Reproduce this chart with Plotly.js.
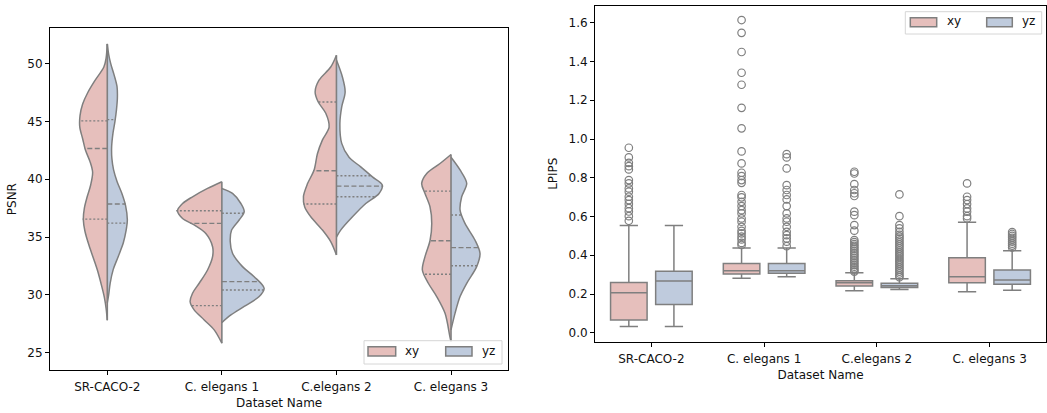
<!DOCTYPE html>
<html><head><meta charset="utf-8">
<script src="https://cdn.plot.ly/plotly-3.0.1.min.js"></script>
<style>html,body{margin:0;padding:0;background:#fff}#chart{width:1047px;height:413px}</style>
</head><body><div id="chart"></div>
<script>
// ---------- DATA ----------
const categories = ["SR-CACO-2", "C. elegans 1", "C.elegans 2", "C. elegans 3"];
const seriesNames = ["xy", "yz"];

// PSNR violin outlines: PSNR level (top to bottom) and half-width of the density at that level
const srXyLevels   = [51.7, 50.5, 49.7, 48.5, 47.5, 46.5, 45.5, 44.5, 43.5, 42.5, 41.5, 40.6, 39.5, 38.5, 37.5, 36.5, 35.5, 34.2, 33.0, 32.0, 30.8, 29.8, 28.8, 27.8];
const srXyWidths   = [0, 0.01, 0.03, 0.11, 0.17, 0.215, 0.238, 0.24, 0.215, 0.19, 0.15, 0.128, 0.145, 0.175, 0.2, 0.209, 0.195, 0.157, 0.115, 0.082, 0.05, 0.026, 0.01, 0];
const srYzLevels   = [51.7, 50.8, 50.0, 49.0, 48.0, 47.0, 46.0, 45.0, 44.0, 42.8, 41.8, 40.8, 39.8, 38.8, 37.7, 36.5, 35.5, 34.5, 33.3, 32.2, 31.0, 30.0, 29.3];
const srYzWidths   = [0, 0.012, 0.03, 0.06, 0.085, 0.088, 0.08, 0.067, 0.05, 0.038, 0.04, 0.055, 0.085, 0.126, 0.16, 0.175, 0.163, 0.14, 0.095, 0.052, 0.025, 0.012, 0];
const c1XyLevels   = [39.78, 39.2, 38.48, 37.9, 37.27, 36.6, 36.04, 35.3, 34.16, 33.3, 32.15, 31.0, 30.14, 29.4, 28.7, 27.83, 26.97, 25.82];
const c1XyWidths   = [0, 0.125, 0.256, 0.343, 0.387, 0.343, 0.242, 0.14, 0.081, 0.081, 0.125, 0.198, 0.256, 0.277, 0.242, 0.154, 0.067, 0];
const c1YzLevels   = [39.2, 38.77, 37.9, 37.2, 36.47, 35.6, 34.6, 33.6, 32.44, 31.57, 30.57, 29.85, 29.0, 28.26, 27.6];
const c1YzWidths   = [0, 0.093, 0.166, 0.195, 0.151, 0.085, 0.073, 0.093, 0.18, 0.282, 0.369, 0.326, 0.195, 0.079, 0];
const c2XyLevels   = [50.72, 49.7, 48.56, 47.55, 46.7, 45.7, 44.5, 43.4, 42.2, 40.8, 39.6, 38.5, 37.6, 36.75, 35.6, 34.6, 33.45];
const c2XyWidths   = [0, 0.05, 0.152, 0.186, 0.16, 0.093, 0.064, 0.122, 0.166, 0.195, 0.253, 0.288, 0.277, 0.224, 0.122, 0.05, 0];
const c2YzLevels   = [50.3, 48.84, 47.55, 46.25, 44.8, 43.1, 41.9, 41.07, 40.2, 39.5, 38.77, 37.9, 36.75, 35.6, 35.0];
const c2YzWidths   = [0, 0.052, 0.076, 0.046, 0.03, 0.046, 0.11, 0.212, 0.314, 0.40, 0.372, 0.256, 0.14, 0.037, 0];
const c3XyLevels   = [42.14, 41.36, 40.5, 39.64, 38.77, 37.6, 36.18, 34.7, 33.3, 32.15, 31.0, 29.85, 28.4, 26.4, 25.96];
const c3XyWidths   = [0, 0.096, 0.212, 0.256, 0.227, 0.183, 0.168, 0.183, 0.227, 0.25, 0.198, 0.125, 0.052, 0.01, 0];
const c3YzLevels   = [41.9, 40.8, 39.64, 38.48, 37.33, 36.18, 34.74, 33.59, 32.44, 31.0, 29.85, 28.4, 26.97];
const c3YzWidths   = [0, 0.079, 0.137, 0.093, 0.079, 0.122, 0.209, 0.253, 0.224, 0.137, 0.079, 0.035, 0];

// PSNR quartiles [Q1, median, Q3]
const xyPsnrQuartiles = [[36.55, 42.66, 45.04], [29.07, 36.18, 37.27], [37.85, 40.73, 46.68], [31.78, 34.68, 38.97]];
const yzPsnrQuartiles = [[36.2, 37.85, 45.15], [30.42, 31.14, 37.05], [38.48, 39.4, 40.3], [32.52, 34.08, 36.9]];

// LPIPS box statistics per category
const xyLower  = [0.033, 0.281, 0.217, 0.212];
const xyQ1     = [0.0655, 0.303, 0.241, 0.258];
const xyMedian = [0.206, 0.32, 0.258, 0.289];
const xyQ3     = [0.26, 0.358, 0.268, 0.387];
const xyUpper  = [0.554, 0.437, 0.31, 0.571];
const yzLower  = [0.033, 0.289, 0.224, 0.22];
const yzQ1     = [0.146, 0.307, 0.234, 0.25];
const yzMedian = [0.267, 0.32, 0.243, 0.272];
const yzQ3     = [0.318, 0.358, 0.255, 0.324];
const yzUpper  = [0.554, 0.437, 0.279, 0.423];

// LPIPS outliers
const xyOutSR = [0.955, 0.905, 0.877, 0.86, 0.843, 0.788, 0.771, 0.745, 0.728, 0.702, 0.685, 0.665, 0.643, 0.626, 0.602, 0.578];
const xyOutC1 = [1.614, 1.548, 1.449, 1.342, 1.28, 1.161, 1.055, 0.936, 0.874, 0.826, 0.809, 0.788, 0.774, 0.711, 0.699, 0.676, 0.654, 0.633, 0.616, 0.59, 0.573, 0.547, 0.526, 0.513, 0.496, 0.482, 0.464, 0.453];
const xyOutC2 = [0.831, 0.822, 0.767, 0.737, 0.72, 0.706, 0.625, 0.607, 0.556, 0.527, 0.478, 0.468, 0.458, 0.449, 0.44, 0.431, 0.422, 0.413, 0.404, 0.395, 0.386, 0.377, 0.368, 0.359, 0.35, 0.341, 0.332, 0.323, 0.316];
const xyOutC3 = [0.771, 0.702, 0.685, 0.664, 0.642, 0.625, 0.602, 0.59];
const yzOutSR = [];
const yzOutC1 = [0.922, 0.905, 0.848, 0.762, 0.737, 0.711, 0.688, 0.654, 0.616, 0.59, 0.573, 0.547, 0.521, 0.504, 0.487, 0.47, 0.447];
const yzOutC2 = [0.714, 0.602, 0.556, 0.539, 0.521, 0.506, 0.496, 0.486, 0.476, 0.466, 0.456, 0.446, 0.436, 0.426, 0.416, 0.406, 0.396, 0.386, 0.376, 0.366, 0.356, 0.346, 0.336, 0.326, 0.316, 0.306, 0.296, 0.287];
const yzOutC3 = [0.52, 0.51, 0.5, 0.49, 0.48, 0.47, 0.46, 0.45, 0.44];

const psnrTicks  = [25, 30, 35, 40, 45, 50];
const lpipsTicks = [0, 0.2, 0.4, 0.6, 0.8, 1.0, 1.2, 1.4, 1.6];

// ---------- STYLE ----------
const W = 1047, H = 413;
const LINE = '#7f7f7f';
const FILL = {xy: '#e6bfbc', yz: '#bfcbdd'};
const FONT = {family: 'DejaVu Sans, sans-serif', size: 12, color: '#111'};
const px = x => x / W, py = y => 1 - y / H;

const xyProfiles = [[srXyLevels, srXyWidths], [c1XyLevels, c1XyWidths], [c2XyLevels, c2XyWidths], [c3XyLevels, c3XyWidths]];
const yzProfiles = [[srYzLevels, srYzWidths], [c1YzLevels, c1YzWidths], [c2YzLevels, c2YzWidths], [c3YzLevels, c3YzWidths]];
const xyOutliers = [xyOutSR, xyOutC1, xyOutC2, xyOutC3];
const yzOutliers = [yzOutSR, yzOutC1, yzOutC2, yzOutC3];

function widthAt(levels, widths, q) {
  for (let k = 0; k < levels.length - 1; k++) {
    const a = levels[k], b = levels[k + 1];
    if ((q <= a && q >= b) || (q >= a && q <= b)) {
      const t = (q - a) / (b - a);
      return widths[k] + t * (widths[k + 1] - widths[k]);
    }
  }
  return 0;
}

const traces = [];
// violins
categories.forEach((cat, i) => {
  [[xyProfiles[i], -1, 'xy', xyPsnrQuartiles[i]], [yzProfiles[i], 1, 'yz', yzPsnrQuartiles[i]]].forEach(([prof, sgn, name, qs]) => {
    const [lv, wd] = prof;
    traces.push({
      type: 'scatter', mode: 'lines', xaxis: 'x', yaxis: 'y',
      x: lv.map((v, k) => i + sgn * wd[k]), y: lv,
      fill: 'toself', fillcolor: FILL[name],
      line: {color: LINE, width: 1.5, shape: 'spline', smoothing: 0.9},
      showlegend: false, hoverinfo: 'skip'
    });
    // quartile lines
    const dotX = [], dotY = [], dashX = [], dashY = [];
    qs.forEach((q, k) => {
      const w = widthAt(lv, wd, q) * 1.03;
      const X = k === 1 ? dashX : dotX, Y = k === 1 ? dashY : dotY;
      X.push(i, i + sgn * w, null); Y.push(q, q, null);
    });
    traces.push({type: 'scatter', mode: 'lines', xaxis: 'x', yaxis: 'y', x: dotX, y: dotY,
      line: {color: LINE, width: 1.4, dash: '2px,2px'}, showlegend: false, hoverinfo: 'skip'});
    traces.push({type: 'scatter', mode: 'lines', xaxis: 'x', yaxis: 'y', x: dashX, y: dashY,
      line: {color: LINE, width: 1.4, dash: '5px,2.5px'}, showlegend: false, hoverinfo: 'skip'});
  });
  // center line
  const all = xyProfiles[i][0].concat(yzProfiles[i][0]);
  traces.push({type: 'scatter', mode: 'lines', xaxis: 'x', yaxis: 'y',
    x: [i, i], y: [Math.min(...all), Math.max(...all)],
    line: {color: LINE, width: 1.6}, showlegend: false, hoverinfo: 'skip'});
});

// boxes
const OFF = 0.2, BW = 0.324;
[['xy', -OFF, xyLower, xyQ1, xyMedian, xyQ3, xyUpper, xyOutliers],
 ['yz', OFF, yzLower, yzQ1, yzMedian, yzQ3, yzUpper, yzOutliers]].forEach(([name, off, lo, q1, md, q3, up, outs]) => {
  traces.push({
    type: 'box', name: name, xaxis: 'x2', yaxis: 'y2',
    x: categories.map((c, i) => i + off),
    lowerfence: lo, q1: q1, median: md, q3: q3, upperfence: up,
    width: BW, whiskerwidth: 0.5, boxpoints: false,
    fillcolor: FILL[name], line: {color: LINE, width: 1.5},
    showlegend: false, hoverinfo: 'skip'
  });
  const ox = [], oy = [];
  outs.forEach((arr, i) => arr.forEach(v => { ox.push(i + off); oy.push(v); }));
  traces.push({
    type: 'scatter', mode: 'markers', xaxis: 'x2', yaxis: 'y2', x: ox, y: oy,
    marker: {symbol: 'circle-open', size: 7.5, color: LINE, line: {color: LINE, width: 1.2}},
    showlegend: false, hoverinfo: 'skip'
  });
});

const axisCommon = {
  showline: true, linecolor: '#000', linewidth: 1, mirror: true,
  ticks: 'outside', ticklen: 4, tickwidth: 1, tickcolor: '#000',
  showgrid: false, zeroline: false, tickfont: FONT, fixedrange: true
};

const shapes = [];
const annotations = [];
function legend(box, patches, texts) {
  shapes.push({type: 'rect', xref: 'paper', yref: 'paper', x0: px(box[0]), x1: px(box[1]), y0: py(box[3]), y1: py(box[2]),
    line: {color: '#d6d6d6', width: 1}, fillcolor: 'rgba(255,255,255,0.85)', layer: 'above'});
  seriesNames.forEach((n, k) => {
    const p = patches[k];
    shapes.push({type: 'rect', xref: 'paper', yref: 'paper', x0: px(p[0]), x1: px(p[1]), y0: py(p[3]), y1: py(p[2]),
      line: {color: LINE, width: 1.5}, fillcolor: FILL[n], layer: 'above'});
    annotations.push({xref: 'paper', yref: 'paper', x: px(texts[k][0]), y: py(texts[k][1]), xanchor: 'left', yanchor: 'middle',
      text: n, showarrow: false, font: FONT, borderpad: 0});
  });
}
legend([364, 502, 340.7, 364], [[368, 395.7, 346.7, 356], [445.7, 472, 346.7, 356]], [[404, 351], [481, 351]]);
legend([905.3, 1041.7, 11.7, 34], [[910.3, 936.7, 17.7, 26.7], [986.7, 1012.3, 17.7, 26.7]], [[945.5, 21.5], [1020.5, 21.5]]);

const layout = {
  width: W, height: H, margin: {l: 0, r: 0, t: 0, b: 0},
  paper_bgcolor: '#fff', plot_bgcolor: '#fff', showlegend: false,
  boxmode: 'overlay',
  xaxis: Object.assign({}, axisCommon, {domain: [px(50), px(508.3)], range: [-0.5, 3.5], anchor: 'y',
    tickvals: categories.map((c, i) => i), ticktext: categories, ticklabelstandoff: 2,
    title: {text: 'Dataset Name', font: FONT, standoff: 5}}),
  yaxis: Object.assign({}, axisCommon, {domain: [py(370), py(28.3)], range: [23.5, 53.05], anchor: 'x',
    tickvals: psnrTicks, title: {text: 'PSNR', font: FONT, standoff: 8}}),
  xaxis2: Object.assign({}, axisCommon, {domain: [px(595), px(1046)], range: [-0.5, 3.5], anchor: 'y2',
    tickvals: categories.map((c, i) => i), ticktext: categories, ticklabelstandoff: 2,
    title: {text: 'Dataset Name', font: FONT, standoff: 5}}),
  yaxis2: Object.assign({}, axisCommon, {domain: [py(341.7), py(5.7)], range: [-0.046, 1.688], anchor: 'x2',
    tickvals: lpipsTicks, tickformat: '.1f', title: {text: 'LPIPS', font: FONT, standoff: 8}}),
  shapes: shapes, annotations: annotations
};

Plotly.newPlot('chart', traces, layout, {displayModeBar: false, staticPlot: true});
</script>
</body></html>
